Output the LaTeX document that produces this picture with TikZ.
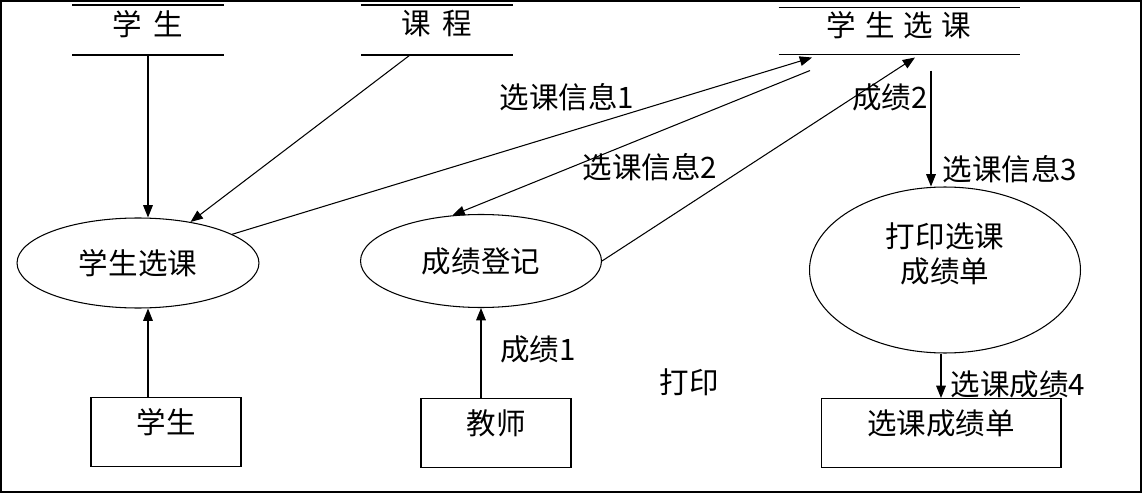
\documentclass[tikz,border=0pt]{standalone}
\usepackage{fontspec}
\setmainfont{Noto Sans CJK SC}
\usepackage{tikz}
\usetikzlibrary{positioning, arrows.meta, calc, shapes.geometric}

\begin{document}
\begin{tikzpicture}[x=0.02cm, y=-0.02cm, line width=0.6pt,
    font=\fontsize{16.8}{20}\selectfont,
    flow/.style={-{Triangle[length=7pt, width=5.5pt]}},
    proc/.style={ellipse, draw, inner sep=0pt},
    ent/.style={draw, minimum width=3cm, minimum height=1.38cm, text depth=0.45cm, inner sep=0pt},
    store/.style={minimum width=3cm, minimum height=0.98cm, text depth=0.3cm, inner sep=0pt}]
  \useasboundingbox (0,0) rectangle (1142,493);
  \draw[line width=1.1pt] (1,1) rectangle (1141,492);

  % data stores
  \node[store] (stu) at (148,30) {学\hspace{.4em}生};
  \node[store] (crs) at (437,30) {课\hspace{.4em}程};
  \node[store, minimum width=4.8cm, minimum height=0.92cm] (sel) at (899,31) {学\hspace{.3em}生\hspace{.3em}选\hspace{.3em}课};
  \foreach \s in {stu, crs, sel}
    \draw (\s.north west) -- (\s.north east) (\s.south west) -- (\s.south east);

  % processes
  \node[proc, minimum width=4.84cm, minimum height=1.8cm] (choose) at (138,263) {学生选课};
  \node[proc, minimum width=4.82cm, minimum height=1.86cm] (grade) at (481,261) {成绩登记};
  \node[proc, minimum width=5.42cm, minimum height=3.32cm, align=center, text depth=0.7cm] (print) at (945,270) {打印选课\\成绩单};

  % external entities
  \node[ent] (b1) at (166,432) {学生};
  \node[ent] (b2) at (496,433) {教师};
  \node[ent, minimum width=4.8cm] (b3) at (941,433) {选课成绩单};

  \coordinate (crsout) at ([xshift=-0.54cm]crs.south);
  \coordinate (selout) at ([xshift=-1.78cm, yshift=-0.32cm]sel.south);
  \coordinate (selprn) at ([xshift=0.64cm, yshift=-0.32cm]sel.south);

  \draw[flow] (stu.south) -- (stu.south |- choose.north);
  \draw[flow] (crsout) -- (choose.38);
  \draw[flow] (choose) -- ([xshift=-1.74cm, yshift=-0.06cm]sel.south);
  \draw[flow] (selout) -- (grade.122);
  \draw[flow] (grade.east) -- ([xshift=0.32cm, yshift=-0.06cm]sel.south);
  \draw[flow] (selprn) -- (selprn |- print.north);
  \draw[flow] (b1.north -| stu.south) -- (stu.south |- choose.south);
  \draw[flow] (b2.north -| grade.south) -- (grade.south);
  \draw[flow] (print.south -| b3.north) -- (b3.north);

  % flow labels
  \node (info1) at (567,97) {选课信息1};
  \node (info2) at (650,167) {选课信息2};
  \node (score2) at (890,97) {成绩2};
  \node (info3) at (1010,169) {选课信息3};
  \node (score1) at (538,349) {成绩1};
  \node (score4) at (1018,384) {选课成绩4};
  \node (prt) at (689,382) {打印};
\end{tikzpicture}
\end{document}
